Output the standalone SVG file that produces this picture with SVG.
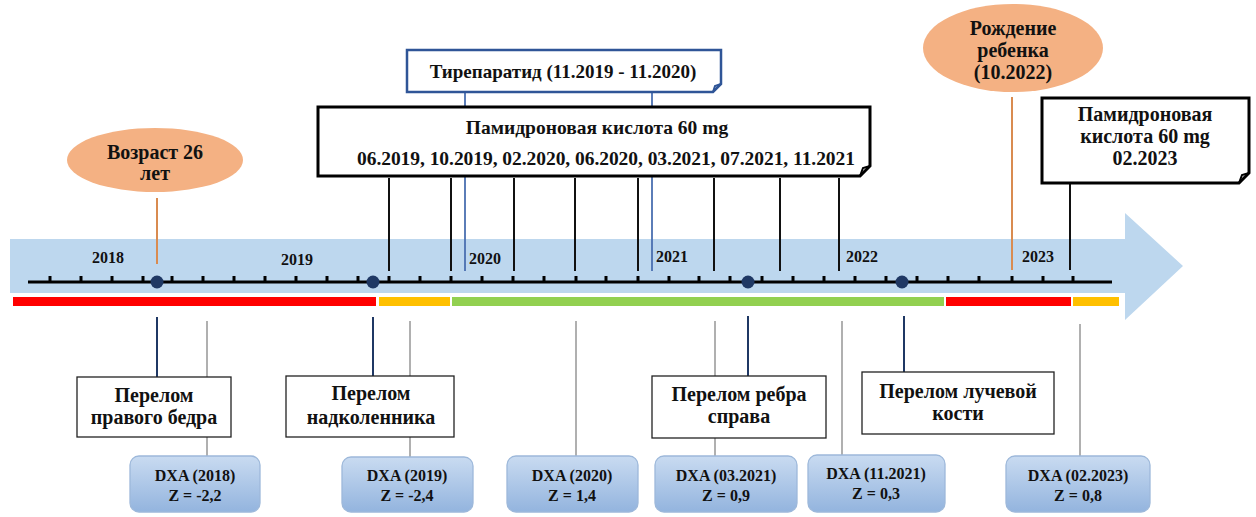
<svg xmlns="http://www.w3.org/2000/svg" width="1256" height="517" viewBox="0 0 1256 517">
<defs>
<linearGradient id="dxaGrad" x1="0" y1="0" x2="0" y2="1">
<stop offset="0" stop-color="#C9DBF1"/>
<stop offset="1" stop-color="#93B4DE"/>
</linearGradient>
<style>
text{font-family:"Liberation Serif","Times New Roman",serif;font-weight:bold;fill:#111;text-anchor:middle}
.yr{font-size:16px}
.box{fill:#fff;stroke:#222;stroke-width:1.3}
.dxa{fill:url(#dxaGrad);stroke:#9DB8DA;stroke-width:1.3}
.dxat{font-size:16px}
.bt{font-size:20px}
.ell{fill:#F4B183}
.cnav{stroke:#1F3864;stroke-width:2}
.cgray{stroke:#B0B0B0;stroke-width:2}
.cblk{stroke:#111;stroke-width:2}
.cblue{stroke:#4A6FB0;stroke-width:1.8}
.corg{stroke:#D98B50;stroke-width:2}
.tick{stroke:#000;stroke-width:3}
.dot{fill:#1F3864}
</style>
</defs>

<g id="timeline">
<polygon points="10,239 1125,239 1125,213 1183,266 1125,320 1125,293 10,293" fill="#BDD7EE"/>
<rect x="13" y="297" width="363" height="9" fill="#FF0000"/>
<rect x="379" y="297" width="71" height="9" fill="#FFC000"/>
<rect x="452" y="297" width="492" height="9" fill="#92D050"/>
<rect x="946" y="297" width="125" height="9" fill="#FF0000"/>
<rect x="1073" y="297" width="46" height="9" fill="#FFC000"/>
<line x1="28" y1="282" x2="1112" y2="282" stroke="#000" stroke-width="3"/>
<path class="tick" d="M50,276V282M81,276V282M112,276V282M143,276V282M172,276V282M203,276V282M234,276V282M265,276V282M296,276V282M327,276V282M358,276V282M389,276V282M420,276V282M451,276V282M482,276V282M513,276V282M544,276V282M576,276V282M606,276V282M638,276V282M669,276V282M699,276V282M730,276V282M762,276V282M793,276V282M824,276V282M855,276V282M886,276V282M917,276V282M948,276V282M979,276V282M1012,276V282M1043,276V282M1073,276V282"/>
<text class="yr" x="108" y="263">2018</text>
<text class="yr" x="297" y="265">2019</text>
<text class="yr" x="485" y="264">2020</text>
<text class="yr" x="672" y="262">2021</text>
<text class="yr" x="862" y="262">2022</text>
<text class="yr" x="1038" y="262">2023</text>
</g>

<g id="connectors">
<line class="corg" x1="157" y1="198" x2="157" y2="264"/>
<line class="corg" x1="1012" y1="97" x2="1012" y2="270"/>
<line class="cblue" x1="465" y1="92" x2="465" y2="107"/>
<line class="cblue" x1="652" y1="92" x2="652" y2="107"/>
<line class="cblue" x1="465" y1="176" x2="465" y2="271"/>
<line class="cblue" x1="652" y1="176" x2="652" y2="271"/>
<line class="cblk" x1="389" y1="178" x2="389" y2="271"/>
<line class="cblk" x1="451" y1="178" x2="451" y2="271"/>
<line class="cblk" x1="514" y1="178" x2="514" y2="271"/>
<line class="cblk" x1="575" y1="178" x2="575" y2="271"/>
<line class="cblk" x1="638" y1="178" x2="638" y2="271"/>
<line class="cblk" x1="714" y1="178" x2="714" y2="271"/>
<line class="cblk" x1="780" y1="178" x2="780" y2="271"/>
<line class="cblk" x1="839" y1="178" x2="839" y2="271"/>
<line class="cblk" x1="1070" y1="183" x2="1070" y2="270"/>
<line class="cnav" x1="157" y1="317" x2="157" y2="377"/>
<line class="cnav" x1="373" y1="317" x2="373" y2="376"/>
<line class="cnav" x1="748" y1="316" x2="748" y2="376"/>
<line class="cnav" x1="904" y1="316" x2="904" y2="373"/>
<line class="cgray" x1="207" y1="321" x2="207" y2="456"/>
<line class="cgray" x1="410" y1="321" x2="410" y2="457"/>
<line class="cgray" x1="576" y1="321" x2="576" y2="456"/>
<line class="cgray" x1="715" y1="321" x2="715" y2="456"/>
<line class="cgray" x1="842" y1="321" x2="842" y2="455"/>
<line class="cgray" x1="1080" y1="324" x2="1080" y2="456"/>
</g>

<g id="dots">
<circle class="dot" cx="157" cy="282" r="6.5"/>
<circle class="dot" cx="373" cy="282" r="6.5"/>
<circle class="dot" cx="748" cy="282" r="6.5"/>
<circle class="dot" cx="902" cy="282" r="6.5"/>
</g>

<g id="age26">
<ellipse class="ell" cx="155" cy="160" rx="88" ry="32"/>
<text class="bt" x="155" y="159">Возраст 26</text>
<text class="bt" x="155" y="180">лет</text>
</g>

<g id="birth">
<ellipse class="ell" cx="1013" cy="48" rx="90" ry="44"/>
<text class="bt" x="1013" y="35">Рождение</text>
<text class="bt" x="1013" y="57">ребенка</text>
<text class="bt" x="1013" y="79">(10.2022)</text>
</g>

<g id="teriparatide">
<path d="M407,50H721V84L713,92H407Z" fill="#fff" stroke="#2F5597" stroke-width="2.5"/>
<path d="M713,92L715,86L721,84" fill="none" stroke="#2F5597" stroke-width="2"/>
<text x="563" y="78" style="font-size:19px">Тирепаратид (11.2019 - 11.2020)</text>
</g>

<g id="pamidronate">
<path d="M318,107H870V166L860,176H318Z" fill="#fff" stroke="#000" stroke-width="3"/>
<path d="M860,176L863,168L870,166" fill="none" stroke="#000" stroke-width="2"/>
<text x="597" y="134" style="font-size:19.5px">Памидроновая кислота 60 mg</text>
<text x="606" y="165" style="font-size:19.5px" textLength="498" lengthAdjust="spacing">06.2019, 10.2019, 02.2020, 06.2020, 03.2021, 07.2021, 11.2021</text>
</g>

<g id="pamidronate2023">
<path d="M1042,98H1249V173L1239,183H1042Z" fill="#fff" stroke="#000" stroke-width="3"/>
<path d="M1239,183L1242,175L1249,173" fill="none" stroke="#000" stroke-width="2"/>
<text class="bt" x="1145" y="121">Памидроновая</text>
<text class="bt" x="1145" y="143">кислота 60 mg</text>
<text class="bt" x="1145" y="165">02.2023</text>
</g>

<g id="fracture-femur">
<rect class="box" x="77" y="377" width="154" height="60"/>
<text class="bt" x="154" y="402">Перелом</text>
<text class="bt" x="154" y="424">правого бедра</text>
</g>
<g id="fracture-patella">
<rect class="box" x="286" y="376" width="168" height="61"/>
<text class="bt" x="371" y="400">Перелом</text>
<text class="bt" x="371" y="424">надколенника</text>
</g>
<g id="fracture-rib">
<rect class="box" x="652" y="376" width="174" height="62"/>
<text class="bt" x="739" y="401">Перелом ребра</text>
<text class="bt" x="739" y="423">справа</text>
</g>
<g id="fracture-radius">
<rect class="box" x="862" y="372" width="192" height="62"/>
<text class="bt" x="958" y="398">Перелом лучевой</text>
<text class="bt" x="958" y="420">кости</text>
</g>

<g id="dxa-2018">
<rect class="dxa" x="130" y="456" width="130" height="56" rx="9"/>
<text class="dxat" x="195" y="481">DXA (2018)</text>
<text class="dxat" x="195" y="501">Z = -2,2</text>
</g>
<g id="dxa-2019">
<rect class="dxa" x="342" y="457" width="131" height="55" rx="9"/>
<text class="dxat" x="407" y="481">DXA (2019)</text>
<text class="dxat" x="407" y="501">Z = -2,4</text>
</g>
<g id="dxa-2020">
<rect class="dxa" x="507" y="456" width="131" height="56" rx="9"/>
<text class="dxat" x="572" y="481">DXA (2020)</text>
<text class="dxat" x="572" y="501">Z = 1,4</text>
</g>
<g id="dxa-032021">
<rect class="dxa" x="655" y="456" width="142" height="56" rx="9"/>
<text class="dxat" x="726" y="481">DXA (03.2021)</text>
<text class="dxat" x="726" y="501">Z = 0,9</text>
</g>
<g id="dxa-112021">
<rect class="dxa" x="808" y="455" width="137" height="57" rx="9"/>
<text class="dxat" x="876" y="479">DXA (11.2021)</text>
<text class="dxat" x="876" y="499">Z = 0,3</text>
</g>
<g id="dxa-022023">
<rect class="dxa" x="1006" y="456" width="144" height="56" rx="9"/>
<text class="dxat" x="1078" y="481">DXA (02.2023)</text>
<text class="dxat" x="1078" y="501">Z = 0,8</text>
</g>
</svg>
